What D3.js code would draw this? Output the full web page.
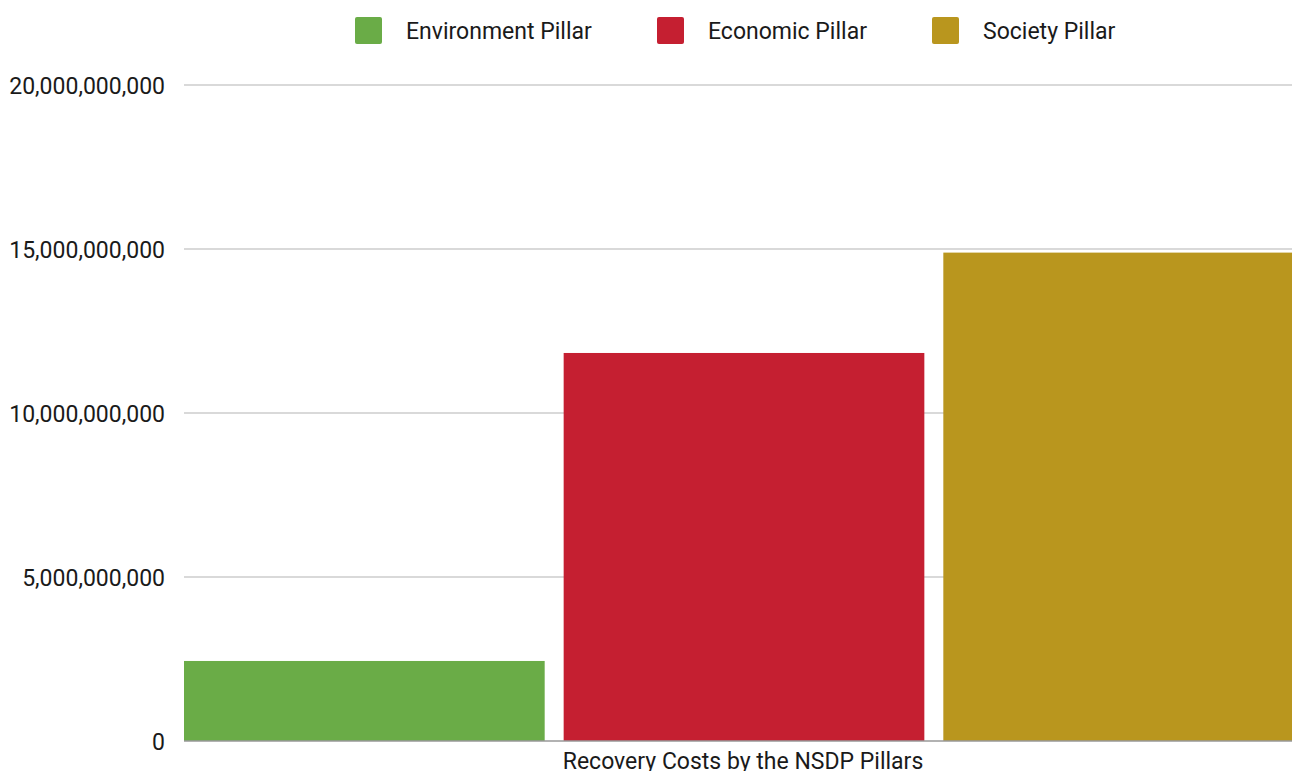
<!DOCTYPE html>
<html>
<head>
<meta charset="utf-8">
<script src="https://cdn.jsdelivr.net/npm/d3@7"></script>
<style>
  html, body { margin: 0; padding: 0; background: #fff; overflow: hidden; }
  text { font-family: Roboto, "Noto Sans", sans-serif; }
</style>
</head>
<body>
<svg id="chart" width="1292" height="771"></svg>
<script>
const categories = ["Recovery Costs by the NSDP Pillars"];
const seriesNames = ["Environment Pillar", "Economic Pillar", "Society Pillar"];
const seriesValues = [2440000000, 11830000000, 14890000000];
const seriesColors = ["#6aac47", "#c51f31", "#b9961e"];
const yTicks = [0, 5000000000, 10000000000, 15000000000, 20000000000];

(function () {
const svg = d3.select("#chart");
const plotLeft = 184, plotRight = 1304, plotTop = 85, plotBottom = 741;
const fs = 23;

const y = d3.scaleLinear().domain([0, 20000000000]).range([plotBottom, plotTop]);
const x0 = d3.scaleBand().domain(categories).range([plotLeft, plotRight]).paddingInner(0).paddingOuter(0);
const x1 = d3.scaleBand().domain(seriesNames).range([0, x0.bandwidth()]).paddingInner(0.05).paddingOuter(0);

// gridlines
svg.append("g").selectAll("line").data(yTicks.filter(d => d > 0)).join("line")
  .attr("x1", plotLeft).attr("x2", plotRight)
  .attr("y1", d => y(d)).attr("y2", d => y(d))
  .attr("stroke", "#cccccc").attr("stroke-width", 1.3);

// y axis labels
const yAxis = d3.axisLeft(y).tickValues(yTicks).tickSize(0).tickPadding(19)
  .tickFormat(d => d3.format(",")(d));
const gy = svg.append("g").attr("transform", `translate(${plotLeft},0)`).call(yAxis);
gy.select(".domain").remove();
gy.selectAll("text").attr("font-size", fs).attr("fill", "#1a1a1a").attr("dy", "0.35em");

// bars
const gCat = svg.append("g").selectAll("g").data(categories).join("g")
  .attr("transform", d => `translate(${x0(d)},0)`);
gCat.selectAll("rect").data(seriesNames.map((s, i) => ({ s, v: seriesValues[i], c: seriesColors[i] })))
  .join("rect")
  .attr("x", d => x1(d.s))
  .attr("width", x1.bandwidth())
  .attr("y", d => y(d.v))
  .attr("height", d => y(0) - y(d.v))
  .attr("fill", d => d.c);

// baseline
svg.append("line").attr("x1", plotLeft).attr("x2", plotRight)
  .attr("y1", y(0)).attr("y2", y(0)).attr("stroke", "#999").attr("stroke-width", 1.3);

// x axis category label
const xAxis = d3.axisBottom(x0).tickSize(0).tickPadding(12);
const gx = svg.append("g").attr("transform", `translate(0,${plotBottom})`).call(xAxis);
gx.select(".domain").remove();
gx.selectAll("text").attr("font-size", fs).attr("fill", "#1a1a1a").attr("x", -1);

// legend
const legendX = [355, 657, 932];
const lg = svg.append("g").selectAll("g").data(seriesNames).join("g")
  .attr("transform", (d, i) => `translate(${legendX[i]},17)`);
lg.append("rect").attr("width", 27).attr("height", 27).attr("rx", 2)
  .attr("fill", (d, i) => seriesColors[i]);
lg.append("text").attr("x", 51).attr("y", 14).attr("dy", "0.35em")
  .attr("font-size", fs).attr("fill", "#1a1a1a").text(d => d);
})();
</script>
</body>
</html>
